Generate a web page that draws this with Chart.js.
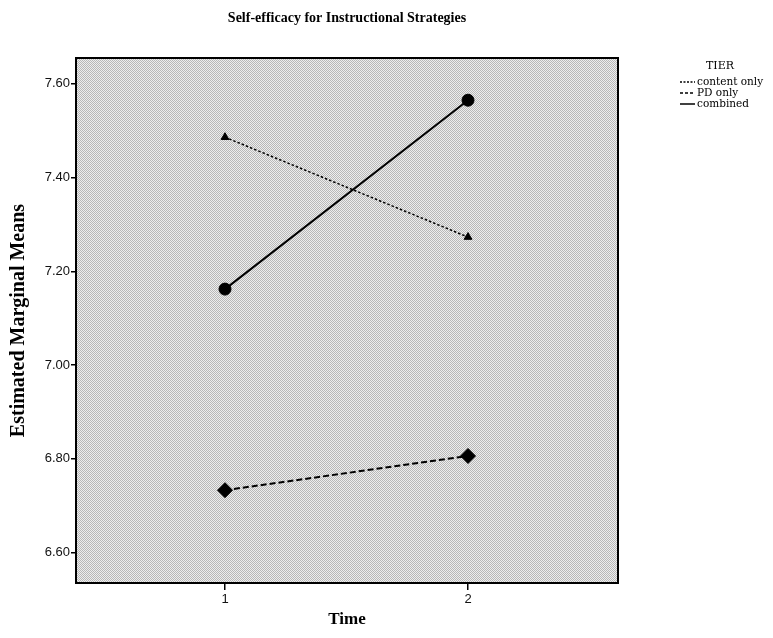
<!DOCTYPE html>
<html>
<head>
<meta charset="utf-8">
<script src="https://cdn.jsdelivr.net/npm/chart.js@4/dist/chart.umd.min.js"></script>
<style>
html,body{margin:0;padding:0;background:#fff;}
canvas{display:block;}
</style>
</head>
<body>
<canvas id="c" width="773" height="638"></canvas>
<script>
const chartTitle = "Self-efficacy for Instructional Strategies";
const xTitle = "Time";
const yTitle = "Estimated Marginal Means";
const legendTitle = "TIER";
const categories = [1, 2];
const seriesNames = ["content only", "PD only", "combined"];
const contentOnly = [7.486, 7.273];
const pdOnly = [6.733, 6.806];
const combined = [7.162, 7.565];
const yTicks = [6.60, 6.80, 7.00, 7.20, 7.40, 7.60];

const styles = [
  {dash:[2.5,2], width:1.5, point:'triangle', radius:4.5},
  {dash:[6,3], width:2, point:'rectRot', radius:7.5},
  {dash:[], width:2, point:'circle', radius:6}
];
const seriesValues = [contentOnly, pdOnly, combined];

const datasets = seriesNames.map((n,i)=>({
  label:n,
  data: categories.map((c,j)=>({x:c, y:seriesValues[i][j]})),
  borderColor:'#000',
  backgroundColor:'#000',
  borderDash: styles[i].dash,
  borderWidth: styles[i].width,
  pointStyle: styles[i].point,
  pointRadius: styles[i].radius,
  pointBorderWidth: 1,
  pointBackgroundColor:'#000',
  pointBorderColor:'#000',
  tension:0
}));

function makePattern(ctx){
  const p = document.createElement('canvas');
  p.width = 4; p.height = 4;
  const pc = p.getContext('2d');
  pc.fillStyle = '#eeeeee';
  pc.fillRect(0,0,4,4);
  pc.fillStyle = '#b8b8b8';
  for (let y=0;y<4;y++) for (let x=0;x<4;x++) if ((x+y)%2===0) pc.fillRect(x,y,1,1);
  return ctx.createPattern(p,'repeat');
}

const decor = {
  id:'decor',
  beforeDraw(chart){
    const {ctx, chartArea:a} = chart;
    ctx.save();
    ctx.fillStyle = '#fff';
    ctx.fillRect(0,0,chart.width,chart.height);
    ctx.fillStyle = makePattern(ctx);
    ctx.fillRect(a.left,a.top,a.right-a.left,a.bottom-a.top);
    ctx.restore();
  },
  afterDraw(chart){
    const {ctx, chartArea:a} = chart;
    ctx.save();
    ctx.strokeStyle = '#000';
    ctx.lineWidth = 2;
    ctx.strokeRect(a.left,a.top,a.right-a.left,a.bottom-a.top);
    ctx.fillStyle = '#000';
    ctx.textAlign = 'center';
    ctx.textBaseline = 'middle';
    const cx = (a.left+a.right)/2;
    ctx.font = 'bold 14px "Liberation Serif", serif';
    ctx.fillText(chartTitle, cx, 18);
    ctx.font = 'bold 17px "Liberation Serif", serif';
    ctx.fillText(xTitle, cx, 620);
    ctx.save();
    ctx.translate(19,(a.top+a.bottom)/2);
    ctx.rotate(-Math.PI/2);
    ctx.font = 'bold 20px "Liberation Serif", serif';
    ctx.fillText(yTitle, 0, 0);
    ctx.restore();
    // legend
    ctx.font = '11px "DejaVu Serif", serif';
    ctx.fillText(legendTitle, 720, 66);
    ctx.textAlign = 'left';
    ctx.font = '10.5px "DejaVu Serif", serif';
    seriesNames.forEach((n,i)=>{
      const y = 82 + i*11;
      ctx.beginPath();
      ctx.setLineDash(styles[i].dash.length? (i===0?[2,1.5]:[3,2]) : []);
      ctx.lineWidth = 1.5;
      ctx.moveTo(680,y); ctx.lineTo(695,y);
      ctx.stroke();
      ctx.setLineDash([]);
      ctx.fillText(n, 697, y);
    });
    ctx.restore();
  }
};

new Chart(document.getElementById('c'), {
  type:'line',
  data:{datasets},
  options:{
    responsive:false,
    animation:false,
    layout:{padding:{top:58,right:155,left:0,bottom:0}},
    plugins:{legend:{display:false},tooltip:{enabled:false},title:{display:false}},
    scales:{
      x:{
        type:'linear',
        min: 1 - 149/243,
        max: 2 + 150/243,
        afterBuildTicks(s){ s.ticks = categories.map(v=>({value:v})); },
        afterFit(s){ s.height = 55; },
        ticks:{color:'#111', font:{family:'"Liberation Sans", Arial, sans-serif', size:13}, padding:2,
          callback:(v)=>String(v)},
        grid:{drawOnChartArea:false, drawTicks:true, tickLength:7, color:'#000', lineWidth:1.5},
        border:{display:true, color:'#000', width:2}
      },
      y:{
        min: 6.535,
        max: 7.655,
        afterBuildTicks(s){ s.ticks = yTicks.map(v=>({value:v})); },
        afterFit(s){ s.width = 76; },
        ticks:{color:'#111', font:{family:'"Liberation Sans", Arial, sans-serif', size:13}, padding:1,
          callback:(v)=>Number(v).toFixed(2)},
        grid:{drawOnChartArea:false, drawTicks:true, tickLength:5, color:'#000', lineWidth:1.5},
        border:{display:true, color:'#000', width:2}
      }
    }
  },
  plugins:[decor]
});
</script>
</body>
</html>
